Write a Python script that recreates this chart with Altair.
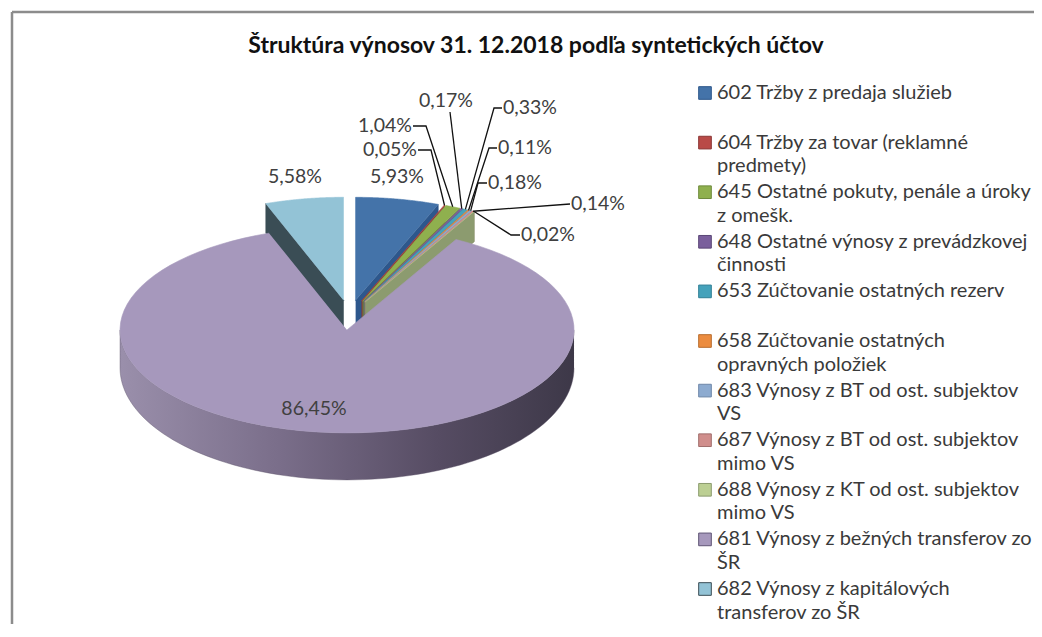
import altair as alt
import pandas as pd

# ---------------- data ----------------
names = [
    "602 Tržby z predaja služieb",
    "604 Tržby za tovar  (reklamné\npredmety)",
    "645 Ostatné pokuty, penále a úroky\nz omešk.",
    "648 Ostatné výnosy z prevádzkovej\nčinnosti",
    "653 Zúčtovanie ostatných rezerv",
    "658 Zúčtovanie ostatných\nopravných položiek",
    "683 Výnosy z BT od ost. subjektov\nVS",
    "687 Výnosy z BT od ost. subjektov\nmimo VS",
    "688 Výnosy z KT od ost. subjektov\nmimo VS",
    "681 Výnosy z bežných transferov  zo\nŠR",
    "682 Výnosy z kapitálových\ntransferov zo ŠR",
]
values = [5.93, 0.05, 1.04, 0.17, 0.33, 0.11, 0.18, 0.14, 0.02, 86.45, 5.58]
title_text = "Štruktúra výnosov 31. 12.2018 podľa syntetických účtov"

# ---------------- styles ----------------
colors = ["#4473a9", "#b94a47", "#8fb04e", "#7a5f9c", "#45a2bb", "#ec8c3f",
          "#8dabd0", "#d08e8c", "#bccf93", "#a698bc", "#93c3d6"]
shades = ["#2d578c", "#8a3533", "#6e8a3c", "#5a4676", "#2f7f95", "#b86d2e",
          "#6e87a8", "#a06e6c", "#8c9b6f", "#5f5475", "#3a4d55"]

df = pd.DataFrame({"name": names, "value": values, "order": list(range(len(names)))})

# layout constants (page pixels)
OX, OY = 349.5, 315.0      # pie centre before explosion
A, B = 227.0, 103.0        # ellipse semi-axes of the tilted pie
E = 0.145                  # explosion
N = 90
FONT = "Lato"
W, HT = 1026, 616

xs = alt.Scale(domain=[8, 8 + W], nice=False, zero=False)
ys = alt.Scale(domain=[8, 8 + HT], nice=False, zero=False, reverse=True)


def H(t, r):
    return f"(30 + ({r})*(8 - 9*cos({t})))"


def base():
    return (alt.Chart(df)
            .transform_joinaggregate(total="sum(value)")
            .transform_window(cum="sum(value)", sort=[alt.SortField("order")], frame=[None, 0])
            .transform_calculate(a0="2*PI*(datum.cum-datum.value)/datum.total")
            .transform_calculate(a1="2*PI*datum.cum/datum.total")
            .transform_calculate(am="(datum.a0+datum.a1)/2")
            .transform_calculate(ox=f"{OX}+{E*A}*sin(datum.am)")
            .transform_calculate(oy=f"{OY}-{E*B}*cos(datum.am)"))


def enc(ch):
    return ch.encode(x=alt.X("px:Q", scale=xs, axis=None),
                     y=alt.Y("py:Q", scale=ys, axis=None),
                     order="i:Q")


def top_face(k):
    c = (base().transform_filter(f"datum.order == {k}")
         .transform_calculate(i=f"sequence(0, {N + 2})")
         .transform_flatten(["i"])
         .transform_calculate(t=f"datum.a0 + (datum.a1 - datum.a0) * max(0, datum.i - 1) / {N}")
         .transform_calculate(r="datum.i == 0 ? 0 : 1")
         .transform_calculate(px=f"datum.ox + datum.r*{A}*sin(datum.t)")
         .transform_calculate(py=f"datum.oy - datum.r*{B}*cos(datum.t)")
         .mark_line(fill=colors[k], stroke=colors[k], strokeWidth=0.6))
    return enc(c)


def radial_face(k, edge):
    te = "datum.a0" if edge == "start" else "datum.a1"
    c = (base().transform_filter(f"datum.order == {k}")
         .transform_calculate(i="sequence(0, 4)")
         .transform_flatten(["i"])
         .transform_calculate(r="(datum.i == 1 || datum.i == 2) ? 1 : 0")
         .transform_calculate(d="datum.i >= 2 ? 1 : 0")
         .transform_calculate(px=f"datum.ox + datum.r*{A}*sin({te})")
         .transform_calculate(py=f"datum.oy - datum.r*{B}*cos({te}) + datum.d*{H(te, 'datum.r')}")
         .mark_line(fill=shades[k], stroke=shades[k], strokeWidth=0.6))
    return enc(c)


def side_wall(k):
    grad = alt.LinearGradient(
        gradient="linear",
        stops=[alt.GradientStop(color="#9a8fab", offset=0),
               alt.GradientStop(color="#7a6e8a", offset=0.35),
               alt.GradientStop(color="#564c63", offset=0.7),
               alt.GradientStop(color="#3d3848", offset=1)],
        x1=0, x2=1, y1=0, y2=0)
    c = (base().transform_filter(f"datum.order == {k}")
         .transform_calculate(i=f"sequence(0, {2 * N + 2})")
         .transform_flatten(["i"])
         .transform_calculate(lo="max(datum.a0, PI/2)", hi="min(datum.a1, 3*PI/2)")
         .transform_calculate(s=f"datum.i <= {N} ? datum.i/{N} : ({2 * N + 1} - datum.i)/{N}")
         .transform_calculate(t="datum.lo + (datum.hi - datum.lo)*datum.s")
         .transform_calculate(d=f"datum.i <= {N} ? 0 : 1")
         .transform_calculate(px=f"datum.ox + {A}*sin(datum.t)")
         .transform_calculate(py=f"datum.oy - {B}*cos(datum.t) + datum.d*{H('datum.t', 1)}")
         .mark_line(fill=grad, stroke="#5a5068", strokeWidth=0.4))
    return enc(c)


# label placement (page pixels) and leader-line elbows
label_layout = {
    0: dict(x=397, y=177, align="center"),
    1: dict(x=417, y=150, align="right", line=[(431, 150), (418, 150)]),
    2: dict(x=412, y=126, align="right", line=[(426, 126), (413, 126)]),
    3: dict(x=446, y=101, align="center", line=[(450, 112)]),
    4: dict(x=503, y=108, align="left", line=[(494, 108), (502, 108)]),
    5: dict(x=498, y=148, align="left", line=[(489, 148), (497, 148)]),
    6: dict(x=488, y=183, align="left", line=[(478, 183), (487, 183)]),
    7: dict(x=571, y=204, align="left", line=[(570, 204)]),
    8: dict(x=521, y=235, align="left", line=[(511, 235), (520, 235)]),
    9: dict(x=314, y=409, align="center"),
    10: dict(x=295, y=177, align="center"),
}


def leader(k, pts):
    xexpr = f"{pts[-1][0]}"
    yexpr = f"{pts[-1][1]}"
    for j in range(len(pts) - 2, -1, -1):
        xexpr = f"(datum.i == {j + 1} ? {pts[j][0]} : {xexpr})"
        yexpr = f"(datum.i == {j + 1} ? {pts[j][1]} : {yexpr})"
    xexpr = f"datum.i == 0 ? datum.ox + {A}*sin(datum.am) : {xexpr}"
    yexpr = f"datum.i == 0 ? datum.oy - {B}*cos(datum.am) : {yexpr}"
    c = (base().transform_filter(f"datum.order == {k}")
         .transform_calculate(i=f"sequence(0, {len(pts) + 1})")
         .transform_flatten(["i"])
         .transform_calculate(px=xexpr)
         .transform_calculate(py=yexpr)
         .mark_line(stroke="#111111", strokeWidth=1.3))
    return enc(c)


def pct_label(k, lay):
    c = (base().transform_filter(f"datum.order == {k}")
         .transform_calculate(lab="replace(format(datum.value, '.2f'), '.', ',') + '%'")
         .transform_calculate(px=f"{lay['x']}", py=f"{lay['y']}")
         .mark_text(font=FONT, fontSize=19.5, color="#404040", align=lay["align"], baseline="middle")
         .encode(x=alt.X("px:Q", scale=xs, axis=None),
                 y=alt.Y("py:Q", scale=ys, axis=None),
                 text="lab:N"))
    return c


layers = []
# back pieces first
layers += [radial_face(10, "start"), top_face(10)]
for k in range(0, 9):
    layers += [radial_face(k, "end"), top_face(k)]
# big slice in front
layers += [side_wall(9), top_face(9)]
# leader lines and labels
for k, lay in label_layout.items():
    if "line" in lay:
        layers.append(leader(k, lay["line"]))
for k, lay in label_layout.items():
    layers.append(pct_label(k, lay))

# legend
leg = (alt.Chart(df)
       .transform_calculate(ly="93 + 49.6*datum.order", lx="705", tx="717")
       .transform_calculate(l1="split(datum.name, '\\n')[0]")
       .transform_calculate(l2="length(split(datum.name, '\\n')) > 1 ? split(datum.name, '\\n')[1] : ''")
       .transform_calculate(ly2="datum.ly + 23.5"))
leg_sq = leg.mark_square(size=160, opacity=1, strokeWidth=1).encode(
    x=alt.X("lx:Q", scale=xs, axis=None),
    y=alt.Y("ly:Q", scale=ys, axis=None),
    fill=alt.Fill("name:N", scale=alt.Scale(domain=names, range=colors), legend=None),
    stroke=alt.Stroke("name:N", scale=alt.Scale(domain=names, range=shades), legend=None))
leg_t1 = leg.mark_text(font=FONT, fontSize=20, color="#3a3a3a", align="left", baseline="middle").encode(
    x=alt.X("tx:Q", scale=xs, axis=None), y=alt.Y("ly:Q", scale=ys, axis=None), text="l1:N")
leg_t2 = leg.mark_text(font=FONT, fontSize=20, color="#3a3a3a", align="left", baseline="middle").encode(
    x=alt.X("tx:Q", scale=xs, axis=None), y=alt.Y("ly2:Q", scale=ys, axis=None), text="l2:N")
layers += [leg_sq, leg_t1, leg_t2]

# chart title
tdf = pd.DataFrame({"t": [title_text]})
title = alt.Chart(tdf).mark_text(font=FONT, fontSize=23, fontWeight="bold", color="#111111",
                                 align="center", baseline="middle").encode(
    x=alt.value(536 - 8), y=alt.value(46 - 8), text="t:N")
layers.append(title)

# chart frame (left and top edges)
fdf = pd.DataFrame({"k": [0]})
frame_l = alt.Chart(fdf).mark_rule(color="#8c8c8c", strokeWidth=2.5).encode(
    x=alt.value(12 - 8), y=alt.value(12 - 8), y2=alt.value(HT))
frame_t = alt.Chart(fdf).mark_rule(color="#8c8c8c", strokeWidth=2.5).encode(
    x=alt.value(12 - 8), x2=alt.value(W), y=alt.value(12 - 8))
layers += [frame_l, frame_t]

chart = (alt.layer(*layers)
         .properties(width=W, height=HT, padding=0, autosize="none", background="white")
         .configure_view(stroke=None))

chart.save("out.html", embed_options={"renderer": "svg", "actions": False})
